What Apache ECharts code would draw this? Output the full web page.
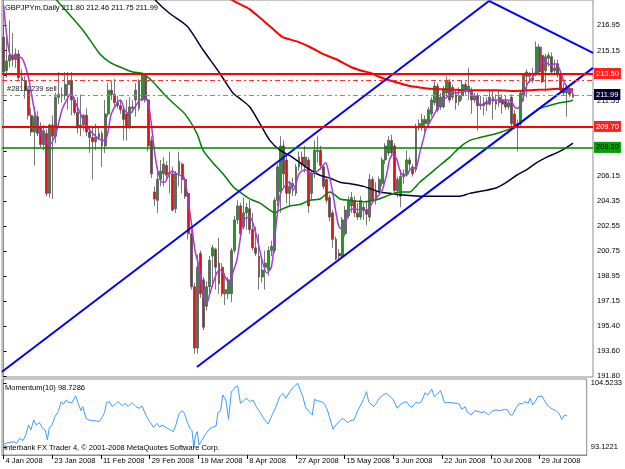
<!DOCTYPE html>
<html>
<head>
<meta charset="utf-8">
<script src="https://cdn.jsdelivr.net/npm/echarts@6/dist/echarts.min.js"></script>
<style>
html,body{margin:0;padding:0;background:#fff;}
#chart{width:625px;height:469px;}
</style>
</head>
<body>
<div id="chart"></div>
<script>
// daily bars GBPJPYm, [open, close, low, high], bar 0 = 4 Jan 2008
const candles = [
[216.1,213.6,213.3,216.9],[213.7,214.4,213.2,216.4],[214.4,214.8,213.9,217.3],[214.8,214.5,214.0,216.4],[214.5,214.9,213.9,215.3],
[214.9,213.2,213.0,215.2],[213.2,213.0,212.6,213.8],[213.0,212.3,211.7,213.3],[212.3,210.5,210.2,212.5],[210.5,209.3,209.0,211.0],
[209.3,210.4,206.9,211.1],[210.4,209.2,209.0,210.8],[209.7,208.4,208.2,210.0],[208.4,209.4,208.0,209.8],[209.2,204.9,204.7,209.5],
[204.9,209.8,204.6,209.9],[209.8,209.0,204.5,210.5],[209.0,211.8,208.5,212.1],[211.8,212.0,211.3,213.6],[212.0,211.9,211.4,212.5],
[211.9,212.7,211.6,213.6],[212.7,213.0,210.9,213.6],[213.0,211.6,210.5,213.6],[211.6,210.7,210.5,211.8],[210.7,209.6,209.2,211.8],
[209.6,209.8,209.0,212.0],[209.8,210.5,209.4,210.6],[210.5,209.3,209.0,211.0],[209.3,208.9,207.8,209.7],[208.9,208.6,205.9,209.7],
[208.6,208.9,208.0,209.9],[208.9,209.2,208.7,209.6],[209.2,208.3,206.8,209.4],[208.3,210.6,207.8,211.6],[210.6,212.3,210.4,212.8],
[212.3,212.0,211.6,213.0],[212.0,211.4,211.1,213.1],[211.4,211.2,211.0,211.9],[211.2,210.9,210.6,211.6],[210.9,210.2,208.7,211.1],
[210.6,209.6,208.7,211.6],[209.7,211.1,209.5,211.8],[211.0,211.1,210.7,211.6],[211.6,212.3,210.4,212.8],[211.0,213.0,210.8,213.1],
[211.6,213.4,211.5,213.5],[213.3,211.6,211.4,213.5],[211.6,208.3,207.9,211.7],[208.7,206.3,206.0,209.0],[205.0,204.5,204.0,205.4],
[204.4,205.9,203.5,206.8],[205.9,206.5,205.4,207.3],[206.3,207.0,205.4,207.5],[206.9,206.2,205.9,207.2],[206.4,206.3,204.9,207.9],
[206.3,203.7,203.6,206.8],[203.8,206.3,203.5,206.5],[206.3,207.2,205.4,207.9],[207.0,205.9,204.9,207.1],[205.9,204.7,204.5,206.1],
[204.9,202.0,201.6,205.0],[202.0,198.2,198.0,202.3],[198.2,193.8,193.4,198.5],[193.8,199.6,193.4,200.5],[200.6,197.7,197.4,200.8],
[198.7,195.3,195.1,198.9],[196.8,198.2,196.5,198.6],[198.2,200.1,197.8,200.4],[200.4,201.0,198.2,201.2],[200.9,199.6,198.0,201.0],
[199.9,198.4,197.7,201.7],[199.6,197.7,197.5,199.9],[197.7,198.0,196.9,199.2],[197.7,198.7,197.3,198.9],[197.7,200.8,197.1,201.0],
[200.8,203.0,200.6,203.3],[203.0,204.0,202.7,204.4],[204.0,202.0,201.8,204.2],[202.5,203.5,202.3,204.6],
[203.5,203.9,202.3,204.2],[203.8,202.3,202.0,204.4],[202.3,201.0,200.8,203.5],[201.0,200.6,200.4,202.5],[200.4,198.9,198.0,202.0],
[198.9,199.4,198.5,200.4],[199.6,199.9,198.0,200.8],[199.4,200.8,199.0,201.1],[200.8,201.1,200.4,201.5],[200.8,204.4,200.6,204.6],
[204.4,206.8,204.0,207.0],[205.0,208.3,203.5,209.0],[208.3,206.3,205.4,208.7],[207.3,204.9,204.2,207.8],[204.9,205.4,204.0,205.8],
[205.4,205.6,204.7,206.0],[204.9,206.8,204.7,207.0],[206.8,207.5,206.5,207.9],[207.5,207.0,206.6,207.9],[206.9,207.5,206.4,208.3],
[207.3,204.0,203.5,207.5],[204.9,206.3,204.4,206.5],[206.3,208.0,206.0,208.7],[207.9,208.0,207.1,209.0],[208.0,206.9,206.6,208.3],
[206.8,205.4,205.2,207.0],[205.9,204.4,204.2,206.0],[204.6,203.2,202.9,204.8],[203.5,201.6,201.0,203.7],[201.6,200.2,200.1,201.8],
[200.6,200.4,200.1,200.9],[200.4,203.0,200.2,203.2],[202.0,203.7,201.8,204.0],[203.3,204.4,203.1,204.7],[204.0,204.6,203.5,205.0],
[204.4,203.5,203.2,204.7],[203.5,203.2,203.0,204.2],[203.2,204.4,203.0,204.7],
[203.9,203.7,203.0,204.2],[203.7,203.4,202.6,204.3],[203.2,205.9,202.9,206.3],[205.9,204.4,204.2,206.1],[204.4,205.0,204.1,205.7],
[205.1,205.9,204.9,206.1],[205.6,207.3,205.4,207.5],[207.3,208.3,207.0,208.5],[207.8,208.7,207.6,209.0],[208.7,207.8,207.5,209.1],
[208.3,205.1,204.9,208.5],[205.1,205.9,204.6,206.1],[204.7,206.1,203.9,206.6],[206.1,206.3,205.6,206.6],[206.3,207.3,206.1,208.0],
[207.3,207.0,206.5,207.5],[206.8,206.3,206.1,207.0],[206.6,209.7,206.4,209.9],[209.6,209.9,209.4,210.2],[209.7,210.2,209.4,210.6],
[210.2,209.9,209.3,210.5],[209.9,210.9,209.7,211.1],[210.6,211.6,210.4,211.8],[211.4,212.6,211.2,212.9],[212.6,210.9,210.7,212.8],
[211.1,211.8,210.9,212.1],[211.1,212.4,211.0,212.6],[212.1,213.0,211.9,213.3],[212.9,211.6,211.4,213.1],[211.8,212.5,211.6,212.7],
[212.0,211.4,210.9,212.3],[211.5,211.9,211.2,212.5],[211.9,212.7,211.6,213.0],[212.7,212.2,212.0,212.9],[212.2,212.6,211.6,213.9],
[212.2,211.6,210.6,212.5],[211.6,211.9,211.4,212.1],[211.9,211.2,209.4,212.1],[211.2,211.3,210.9,211.9],[211.3,211.2,210.5,211.8],
[211.4,211.3,210.8,211.8],[211.3,211.8,211.2,212.3],[211.8,211.5,210.2,212.3],[211.5,211.3,210.9,212.0],[211.4,211.8,211.1,212.3],
[211.6,211.3,210.6,212.0],[211.5,211.1,210.9,211.9],[211.1,211.4,210.9,211.6],[211.8,209.9,209.6,212.0],[210.6,209.7,209.5,210.9],
[209.9,209.7,207.9,210.2],[209.9,212.1,209.7,212.3],[211.9,213.4,211.5,213.5],[213.3,213.6,211.8,213.8],[213.4,213.3,212.8,213.6],
[213.2,213.0,212.8,213.9],[213.5,215.4,213.3,215.8],[215.4,213.6,213.4,215.6],[214.8,212.9,212.8,215.4],[213.7,214.7,212.2,214.9],
[214.6,214.8,214.0,215.0],[214.7,213.6,213.5,215.0],[213.7,213.9,213.4,214.5],[214.2,213.4,213.2,214.5],[213.5,212.3,212.1,213.7],
[212.3,212.1,211.9,212.8],[212.1,212.5,210.4,212.7],[212.4,212.0,211.8,212.6],[211.80,211.99,211.75,212.46]
];

// moving averages, [bar, price]
const maFast = [[0,218.4],[2,214.9],[4,214.7],[6,214.6],[8,213.3],[10,210.9],[12,209.2],[15,208.4],[17,209.2],[19,210.9],[21,211.8],[22,212.1],[23,211.6],[25,210.6],[27,209.7],[29,209.2],[31,208.8],[33,208.7],[34,209.4],[35,210.6],[37,211.4],[38,211.6],[39.5,210.8],[41,210.6],[42.7,211.1],[44.3,211.6],[46,211.7],[47,211.4],[48,209.9],[49,208.0],[50,206.6],[51.5,205.7],[52.4,205.7],[53.4,206.1],[54.7,206.5],[56.3,206.3],[58,206.1],[59,205.7],[60,204.4],[61.2,202.5],[62.2,200.8],[63.2,199.9],[64.4,198.4],[65.4,197.2],[66,197.0],[67,197.7],[68,198.4],[69.3,199.2],[70.3,199.4],[71.3,199.2],[72.5,198.7],[73.5,198.4],[74.5,199.2],[75.8,200.1],[76.8,201.5],[78,203.0],[80,203.2],[82,202.0],[84,200.1],[85.5,199.2],[87,199.6],[88,201.5],[89,203.5],[90,204.9],[92,205.6],[93,205.7],[94,205.1],[95,205.6],[96,206.3],[98,206.6],[99,206.5],[100,206.3],[102,206.5],[103,206.7],[104.7,207.1],[105.7,206.3],[107,204.9],[108,203.5],[109,202.5],[110.3,202.3],[111.4,203.0],[112.5,203.7],[114,203.8],[116,203.7],[118,203.7],[120,204.3],[121.6,204.7],[123,205.1],[124.5,206.3],[125.5,207.4],[126.6,207.7],[127.8,207.3],[128.7,206.6],[129.7,206.2],[131,206.2],[132,206.6],[133.3,206.7],[134.2,206.8],[135.2,207.8],[136.3,208.7],[137.4,209.6],[139,210.2],[140.7,210.9],[142.4,211.6],[144,211.8],[145.6,212.2],[147,212.1],[149,212.2],[150.5,212.3],[152,212.1],[153.7,211.6],[155,211.2],[157,211.5],[159,211.6],[161,211.6],[163.5,211.6],[165,211.5],[166,211.1],[167,211.0],[168.3,211.4],[169.3,212.2],[170.3,212.8],[171.4,213.1],[172.4,213.4],[173.5,214.0],[174.8,214.3],[175.8,214.3],[176.8,214.2],[178,214.1],[179,214.2],[180,214.1],[181.3,213.4],[182.3,212.8],[183.3,212.4],[184.5,212.2],[185,212.0]];
const maMid = [[15,219.35],[17.7,218.65],[25.8,216.6],[31.3,214.9],[34.6,214.3],[38.5,213.9],[42,213.6],[45.3,213.5],[48.5,212.9],[51.8,212.1],[55,211.4],[58.9,210.6],[62.8,209.2],[64.8,208.0],[68,207.1],[71.3,206.3],[74.5,205.4],[76.8,205.0],[80,204.5],[83.3,204.2],[86.5,203.7],[88.1,203.5],[89.8,203.7],[93,204.0],[96.3,204.1],[99.5,204.4],[102.8,204.5],[106,205.0],[107.6,204.8],[109.3,204.5],[112.5,204.4],[117,204.3],[122,204.5],[125.5,204.8],[128.7,205.0],[132,205.0],[133.6,205.3],[135.2,205.7],[138.5,206.3],[141.7,206.9],[145,207.5],[148.2,208.2],[151.5,208.7],[154.7,208.9],[160.2,209.2],[165.4,209.6],[167.7,209.9],[171,210.5],[174.2,211.0],[177.4,211.2],[180.7,211.4],[184,211.5],[185,211.6]];
const maLong = [[72,219.1],[75.2,218.65],[78.4,218.3],[80,218.1],[83.3,217.5],[87.5,216.7],[90.7,216.1],[95.3,215.8],[99.5,215.4],[103.7,214.9],[108.3,214.5],[112.5,214.0],[116.3,213.7],[119,213.55],[122.2,213.25],[125.5,213.0],[128.7,212.8],[132,212.6],[135.2,212.5],[138.5,212.4],[145,212.35],[151.5,212.3],[160.2,212.3],[165.4,212.25],[171,212.3],[176.5,212.35],[180.7,212.4],[185,212.35]];
const maSlow = [[47,219.4],[49.8,218.65],[54,217.8],[59.6,216.9],[64.8,215.2],[70.3,213.5],[74.5,212.1],[76.8,211.7],[80,211.1],[83.3,209.9],[86.5,208.7],[89.8,208.0],[93,207.6],[96.3,207.1],[99.5,206.6],[102.8,206.2],[106,206.0],[109.3,205.7],[112.5,205.6],[117,205.4],[122.2,205.0],[125.5,204.9],[128.7,204.8],[135.2,204.7],[141.7,204.7],[148.2,204.7],[151.5,204.9],[156.3,205.1],[160.2,205.3],[163.5,205.7],[166.7,206.2],[170,206.6],[173.2,207.1],[176.5,207.5],[179.7,207.8],[183,208.2],[185,208.5]];

// Momentum(10), [bar, value]
const momentum = [[0,93.7],[1.5,93.95],[3.4,94.13],[4.3,93.83],[5.3,94.72],[6.4,94.31],[7.3,95.32],[8.2,97.1],[9,96.21],[9.9,97.99],[10.8,97.1],[11.8,97.52],[12.8,96.51],[13.7,96.21],[14.4,94.43],[15,96.51],[15.9,97.1],[17,98.7],[18,99.47],[18.9,101.26],[19.6,100.78],[20.6,101.55],[21.5,101.08],[22.5,101.08],[23.7,102.27],[24.5,100.96],[25.4,99.65],[26,100.37],[27.1,98.29],[28,97.99],[29.3,97.87],[30.6,97.81],[31.5,97.69],[32.5,98.58],[33.2,99.3],[33.8,101.08],[34.8,101.26],[35.7,100.37],[36.8,100.84],[37.7,101.26],[39,100.49],[40,100.96],[40.9,100.37],[42.2,101.08],[43.5,100.37],[44.5,100.07],[45.5,100.49],[46.7,98.88],[48,97.69],[49.3,96.69],[50.4,97.4],[51.3,96.69],[51.9,97.1],[53.2,96.69],[54.5,96.33],[55.8,95.91],[56.5,96.92],[57.7,99.18],[58.7,99.65],[59.4,99.18],[60.3,97.69],[61.2,96.51],[61.9,96.09],[62.5,93.12],[63,95.14],[63.6,95.91],[64.2,93.54],[64.9,94.13],[66.2,95.32],[67.5,96.33],[68.7,96.69],[69.8,96.92],[70.4,99.3],[71.3,99.65],[72,102.44],[72.6,102.27],[73,101.55],[73.9,98.11],[74.2,99.77],[74.8,103.04],[75.6,103.45],[76.2,103.93],[76.9,104.05],[77.8,100.96],[78.8,101.43],[79.7,101.85],[81,101.26],[81.9,101.55],[83,100.37],[84.3,99.3],[85.6,98.11],[86.9,97.28],[88.2,98.88],[89.4,100.25],[90.7,102.15],[91.8,102.74],[92.7,101.85],[94,103.04],[95.3,103.93],[96.6,104.52],[97.2,104.35],[98.2,102.27],[99.2,100.25],[100.4,99.47],[101.4,98.88],[102.1,101.67],[103,101.43],[104.3,101.26],[105.2,100.96],[106.3,99.89],[107.3,97.99],[108.2,96.33],[109.1,97.1],[110.2,97.69],[111.2,98.29],[112.1,97.99],[113,97.52],[114,97.87],[115.1,97.99],[116,99.3],[117.3,100.66],[118.2,101.67],[119.2,103.04],[119.9,101.26],[120.5,100.96],[121.5,100.37],[122.4,100.96],[123.4,101.85],[124.6,102.44],[125.7,102.74],[127,102.15],[128,101.55],[129.3,100.07],[130.2,100.66],[130.9,100.96],[132.2,101.26],[133.4,100.49],[134.1,100.25],[135.4,101.14],[136.3,100.96],[137.3,101.26],[138.4,102.86],[139.3,102.44],[140.6,103.45],[141.5,102.15],[142.5,102.62],[143.5,103.22],[144.8,101.08],[146.6,101.08],[148.7,100.96],[149.6,100.84],[150.5,99.89],[151.6,100.37],[152.2,99.47],[153.5,98.88],[154.8,99.65],[156.1,99.47],[157,99.3],[158,99.47],[159.3,98.88],[160.6,99.65],[161.7,99.77],[163.2,99.65],[164.5,99.89],[165.5,99.77],[166.4,98.88],[167.1,98.88],[168.4,100.25],[169.4,100.96],[170.3,100.84],[171.2,101.26],[172.3,100.96],[172.9,101.85],[173.8,100.66],[174.6,101.26],[175.5,102.15],[176.8,102.27],[177.4,101.67],[178.5,100.66],[179.8,100.07],[181.3,99.65],[182.4,99.18],[183.3,98.11],[184.2,98.88],[185,98.7286]];

// trend lines, [bar, price] end points
const channelTop = [[-0.5,192.1],[157.7,218.7]];
const channelLow = [[62.8,192.44],[191.5,213.9]];
const fallLine = [[157.7,218.7],[191.5,214.97]];

// horizontal levels
const resistLevel = 213.50;
const stopLevel = 213.03;
const orderLevel = 211.95;
const bidPrice = 211.99;
const supportLevel = 209.70;
const greenLevel = 208.20;

const priceTicks = [191.80,193.60,195.40,197.15,198.95,200.75,202.55,204.35,206.15,207.95,209.75,211.55,213.35,215.15,216.95];
const momTicks = [104.5233,93.1221];
const dateLabels = ['4 Jan 2008','23 Jan 2008','11 Feb 2008','29 Feb 2008','19 Mar 2008','8 Apr 2008','27 Apr 2008','15 May 2008','3 Jun 2008','22 Jun 2008','10 Jul 2008','29 Jul 2008'];
const labelBars = [0,16,32,48,64,80,96,112,128,144,160,176];

const FONT = 'Liberation Sans, Arial, sans-serif';
const chart = echarts.init(document.getElementById('chart'), null, {renderer:'canvas'});
const last = candles[candles.length - 1];
const lastMom = momentum[momentum.length - 1][1];

function maLine(name, data, color, width) {
    return {name:name, type:'line', xAxisIndex:0, yAxisIndex:0, data:data, showSymbol:false, smooth:0.25,
        lineStyle:{color:color, width:width}, z:3, silent:true};
}
function trend(data) {
    return {type:'line', xAxisIndex:0, yAxisIndex:0, data:data, showSymbol:false,
        lineStyle:{color:'#0000ff', width:2}, z:4, silent:true};
}
function priceBox(level, bg, fg) {
    return {show:true, position:'end', distance:1, formatter:() => level.toFixed(2),
        backgroundColor:bg, color:fg, padding:[2,2,1,2], fontSize:7.5, fontFamily:FONT};
}

chart.setOption({
    animation:false,
    backgroundColor:'#fff',
    textStyle:{fontFamily:FONT},
    grid:[
        {left:2, right:32, top:0, height:377, show:true, borderColor:'#8c8c8c', borderWidth:1},
        {left:2, right:32, top:379, height:76, show:true, borderColor:'#8c8c8c', borderWidth:1}
    ],
    xAxis:[
        {type:'value', gridIndex:0, min:-0.5, max:191.5, axisLine:{show:false}, axisTick:{show:false},
            axisLabel:{show:false}, splitLine:{show:false}},
        {type:'value', gridIndex:1, min:-0.5, max:191.5, axisLine:{show:true, lineStyle:{color:'#8c8c8c'}},
            axisTick:{show:true, customValues:labelBars, length:4, lineStyle:{color:'#000'}},
            axisLabel:{customValues:labelBars, formatter:v => dateLabels[labelBars.indexOf(v)] || '',
                align:'left', margin:2, padding:[0,0,0,2], fontSize:7.5, color:'#000', fontFamily:FONT},
            splitLine:{show:false}}
    ],
    yAxis:[
        {type:'value', gridIndex:0, position:'right', min:191.728, max:218.77, scale:true,
            axisLine:{show:true, lineStyle:{color:'#8c8c8c'}},
            axisTick:{show:true, customValues:priceTicks, length:3, lineStyle:{color:'#000'}},
            axisLabel:{customValues:priceTicks, formatter:v => v.toFixed(2), margin:4, fontSize:7.5, color:'#000', fontFamily:FONT},
            splitLine:{show:false}},
        {type:'value', gridIndex:1, position:'right', min:91.75, max:105.29, scale:true,
            axisLine:{show:true, lineStyle:{color:'#8c8c8c'}},
            axisTick:{show:true, customValues:momTicks, length:3, lineStyle:{color:'#000'}},
            axisLabel:{customValues:momTicks, formatter:v => v.toFixed(4), margin:4, fontSize:7.5, color:'#000', fontFamily:FONT},
            splitLine:{show:false}}
    ],
    graphic:[
        {type:'text', left:5, top:4, style:{text:'GBPJPYm,Daily ' + last[0].toFixed(2) + ' ' + last[3].toFixed(2) + ' ' + last[2].toFixed(2) + ' ' + last[1].toFixed(2),
            font:'7.5px ' + FONT, fill:'#000'}, z:10},
        {type:'text', left:7, top:85, style:{text:'#28111239 sell', font:'7.5px ' + FONT, fill:'#222'}, z:10},
        {type:'text', left:5, top:384, style:{text:'Momentum(10) ' + lastMom.toFixed(4), font:'7.5px ' + FONT, fill:'#000'}, z:10},
        {type:'text', left:4, top:444, style:{text:'Interbank FX Trader 4, \u00a9 2001-2008 MetaQuotes Software Corp.',
            font:'7.5px ' + FONT, fill:'#000'}, z:10}
    ],
    series:[
        {type:'candlestick', xAxisIndex:0, yAxisIndex:0, barWidth:2.4, z:2,
            data:candles.map((c, i) => [i, c[0], c[1], c[2], c[3]]),
            encode:{x:0, y:[1,2,3,4]},
            itemStyle:{color:'#1e9a1e', color0:'#dd1111', borderColor:'#555', borderColor0:'#555', borderWidth:0.8},
            markLine:{silent:true, symbol:['none','none'], animation:false,
                data:[
                    {yAxis:stopLevel, lineStyle:{color:'#ff3030', width:1.2, type:[5,3,2,3]}, label:{show:false}},
                    {yAxis:orderLevel, lineStyle:{color:'#2fd02f', width:1.2, type:[5,3,2,3]}, label:{show:false}},
                    {yAxis:greenLevel, lineStyle:{color:'#008000', width:1.5, type:'solid'}, label:priceBox(greenLevel, '#00a000', '#000')},
                    {yAxis:supportLevel, lineStyle:{color:'#ff0000', width:2, type:'solid'}, label:priceBox(supportLevel, '#ff2020', '#fff')},
                    {yAxis:resistLevel, lineStyle:{color:'#ff0000', width:2, type:'solid'}, label:priceBox(resistLevel, '#ff2020', '#fff')},
                    {yAxis:bidPrice, lineStyle:{color:'rgba(0,0,0,0)', width:1}, label:priceBox(bidPrice, '#000033', '#fff')}
                ]}
        },
        maLine('ma200', maSlow, '#000033', 1.5),
        maLine('ma100', maLong, '#ff0000', 2),
        maLine('ma50', maMid, '#008000', 1.5),
        maLine('ma5', maFast, '#a43ad8', 1.5),
        trend(channelTop),
        trend(channelLow),
        trend(fallLine),
        {type:'line', xAxisIndex:1, yAxisIndex:1, data:momentum, showSymbol:false,
            lineStyle:{color:'#3d9bff', width:1}, silent:true}
    ]
});
</script>
</body>
</html>
